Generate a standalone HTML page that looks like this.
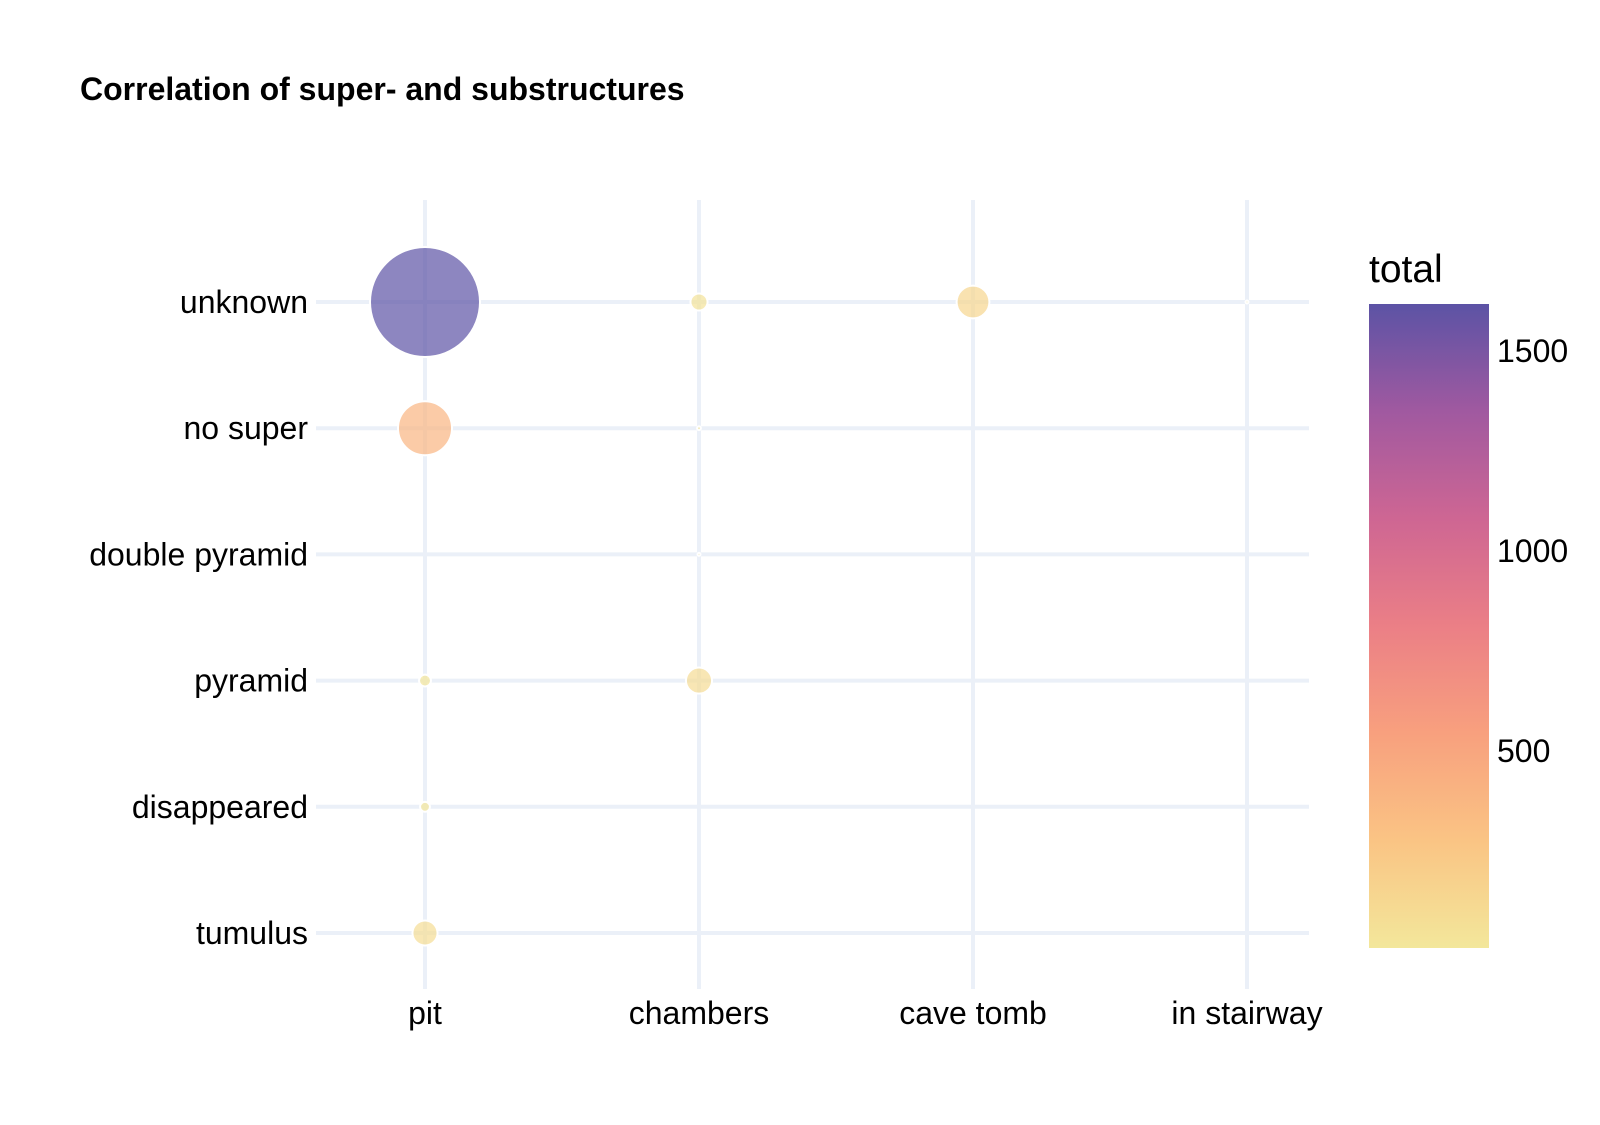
<!DOCTYPE html>
<html><head><meta charset="utf-8"><style>
body{margin:0;background:#fff;}
svg text{font-family:"Liberation Sans",sans-serif;}
</style></head><body>
<svg id="chart" width="1600" height="1120" xmlns="http://www.w3.org/2000/svg">
<defs><linearGradient id="cg" x1="0" y1="1" x2="0" y2="0">
<stop offset="0" stop-color="#f3e79b"/><stop offset="0.1667" stop-color="#fac484"/><stop offset="0.3333" stop-color="#f8a07e"/><stop offset="0.5" stop-color="#eb7f86"/><stop offset="0.6667" stop-color="#ce6693"/><stop offset="0.8333" stop-color="#a059a0"/><stop offset="1" stop-color="#5c53a5"/>
</linearGradient></defs>
<text x="80" y="100" font-size="32" font-weight="bold" fill="#000">Correlation of super- and substructures</text>
<g id="grid"></g><g id="axes"></g><g id="bubbles"></g>
<text x="1369" y="282" font-size="39" fill="#000">total</text>
<rect x="1369" y="304" width="120" height="644" fill="url(#cg)"/>
<g id="cbticks"></g>
</svg>
<script>
const xCats=["pit","chambers","cave tomb","in stairway"];
const yCats=["unknown","no super","double pyramid","pyramid","disappeared","tumulus"];
const ptX=["pit","chambers","cave tomb","in stairway","pit","chambers","chambers","pit","chambers","pit","pit"];
const ptY=["unknown","unknown","unknown","unknown","no super","no super","double pyramid","pyramid","pyramid","disappeared","tumulus"];
const ptV=[1617,39,144,1,390,2,1,19,91,13,84];
const cbTicks=[500,1000,1500];
const cmin=7,cmax=1617;
const NS="http://www.w3.org/2000/svg";
const xPos=c=>425+xCats.indexOf(c)*274;
const yPos=c=>302+yCats.indexOf(c)*126.2;
const rOf=v=>55*Math.sqrt(v/cmax);
const cbY=v=>948-(v-cmin)/(cmax-cmin)*644;
const stops=["#f3e79b","#fac484","#f8a07e","#eb7f86","#ce6693","#a059a0","#5c53a5"];
function color(v){let t=Math.max(0,Math.min(1,(v-cmin)/(cmax-cmin)))*6;let i=Math.min(5,Math.floor(t)),f=t-i;
const a=stops[i],b=stops[i+1];const h=(s,k)=>parseInt(s.substr(1+2*k,2),16);
return "rgb("+[0,1,2].map(k=>Math.round(h(a,k)+(h(b,k)-h(a,k))*f)).join(",")+")";}
function el(tag,attrs,parent,txt){const e=document.createElementNS(NS,tag);for(const k in attrs)e.setAttribute(k,attrs[k]);if(txt!==undefined)e.textContent=txt;document.getElementById(parent).appendChild(e);return e;}
xCats.forEach(c=>{
 const l=el("line",{x1:xPos(c),x2:xPos(c),y1:200,y2:989,stroke:"#ebf0f8","stroke-width":4},"grid");
 
 
 const t=el("text",{x:xPos(c),y:1024,"text-anchor":"middle","font-size":32,fill:"#000"},"axes",c);
 
 
});
yCats.forEach(c=>{
 const l=el("line",{x1:316,x2:1309,y1:yPos(c),y2:yPos(c),stroke:"#ebf0f8","stroke-width":4},"grid");
 
 
 const t=el("text",{x:308,y:yPos(c)+11,"text-anchor":"end","font-size":32,fill:"#000"},"axes",c);
 
 
});
ptV.forEach((v,i)=>{
 const c=el("circle",{cx:xPos(ptX[i]),cy:yPos(ptY[i]),r:Math.max(1.5,rOf(v)),fill:color(v),"fill-opacity":0.7,stroke:"#fff","stroke-width":2},"bubbles");
 
 
});
cbTicks.forEach(v=>{
 const t=el("text",{x:1497,y:cbY(v)+11,"font-size":32,fill:"#000"},"cbticks",String(v));
 
 
});
</script>
</body></html>
